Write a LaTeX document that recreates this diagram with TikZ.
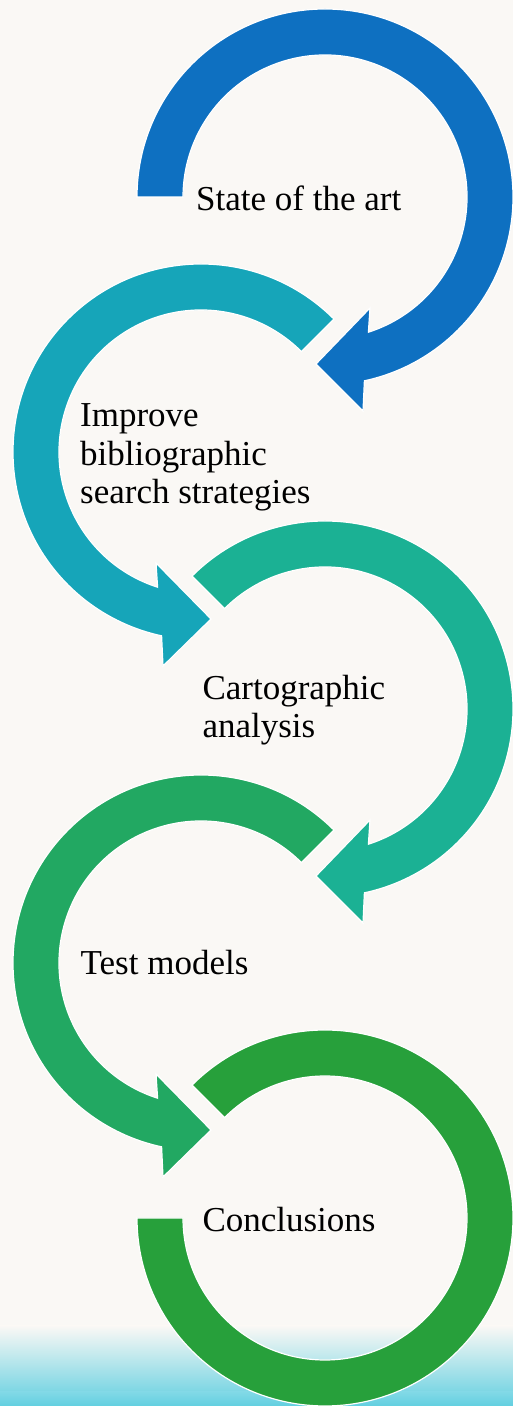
\documentclass[tikz,border=0pt]{standalone}
\usepackage{fontspec}
\setmainfont{Liberation Serif}
\definecolor{bgc}{HTML}{FAF8F5}
\definecolor{wcyan}{HTML}{62CFE0}
\definecolor{cA}{HTML}{0E70C1}
\definecolor{cB}{HTML}{16A5B9}
\definecolor{cC}{HTML}{1BB194}
\definecolor{cD}{HTML}{22A862}
\definecolor{cE}{HTML}{27A03B}
\tikzset{
  ringshape/.style={draw=white, line width=1.2pt, line join=miter},
  label/.style={anchor=base west, inner sep=0pt, align=left, font=\fontsize{35}{38.3}\selectfont, text=black},
}
\begin{document}
\begin{tikzpicture}[x=1pt,y=1pt]
\useasboundingbox (0,0) rectangle (513,1406);
\fill[bgc] (0,0) rectangle (513,1406);
\shade[top color=bgc, middle color=wcyan!35, bottom color=wcyan] (0,0) rectangle (513,80);
\shade[top color=wcyan!80, bottom color=wcyan] (0,0) rectangle (513,14);
% arrow 1
\begin{scope}[shift={(325,1209)}]
\filldraw[ringshape, fill=cA] (180:188pt) arc[start angle=180, end angle=-77.9, radius=188pt] -- (38,-214) -- (-9,-167) -- (45,-111) -- (-72.2:142pt) arc[start angle=-72.2, end angle=180, radius=142pt] -- cycle;
\end{scope}
% arrow 2
\begin{scope}[shift={(201,954)}]
\filldraw[ringshape, fill=cB] (45:188pt) arc[start angle=45, end angle=257.9, radius=188pt] -- (-38,-214) -- (10,-167) -- (-45,-111) -- (252.2:142pt) arc[start angle=252.2, end angle=45, radius=142pt] -- cycle;
\end{scope}
% arrow 3
\begin{scope}[shift={(325,697)}]
\filldraw[ringshape, fill=cC] (135:188pt) arc[start angle=135, end angle=-77.9, radius=188pt] -- (38,-214) -- (-9,-167) -- (45,-111) -- (-72.2:142pt) arc[start angle=-72.2, end angle=135, radius=142pt] -- cycle;
\end{scope}
% arrow 4
\begin{scope}[shift={(201,443)}]
\filldraw[ringshape, fill=cD] (45:188pt) arc[start angle=45, end angle=257.9, radius=188pt] -- (-38,-214) -- (10,-167) -- (-45,-111) -- (252.2:142pt) arc[start angle=252.2, end angle=45, radius=142pt] -- cycle;
\end{scope}
% arrow 5
\begin{scope}[shift={(325,188)}]
\filldraw[ringshape, fill=cE] (135:188pt) arc[start angle=135, end angle=-180, radius=188pt] -- (-180:142pt) arc[start angle=-180, end angle=135, radius=142pt] -- cycle;
\end{scope}
\node[label] (t1) at (196,1195.3) {State of the art};
\node[label] (t2) at (80,902.5) {Improve\\bibliographic\\search strategies};
\node[label] (t3) at (202.3,668.3) {Cartographic\\analysis};
\node[label] (t4) at (80.5,431) {Test models};
\node[label] (t5) at (202.3,174.3) {Conclusions};
\end{tikzpicture}
\end{document}
